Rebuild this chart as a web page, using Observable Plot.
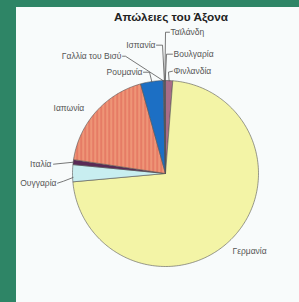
<!DOCTYPE html>
<html><head><meta charset="utf-8">
<script src="https://cdn.jsdelivr.net/npm/d3@7"></script>
<script src="https://cdn.jsdelivr.net/npm/@observablehq/plot@0.6"></script>
<style>
html,body{margin:0;padding:0;}
body{width:299px;height:302px;overflow:hidden;background:#2e8566;position:relative;font-family:"Liberation Sans",Arial,sans-serif;}
#panel{position:absolute;left:16px;top:7px;right:0;bottom:0;background:#f8fbfb;}
#title{position:absolute;left:100px;width:142px;top:10px;line-height:14px;text-align:center;font-size:11.8px;font-weight:bold;color:#222;}
#chart{position:absolute;left:0;top:0;}
</style></head>
<body>
<div id="panel"></div>
<div id="title">Απώλειες του Άξονα</div>
<svg width="0" height="0" style="position:absolute"><defs>
<pattern id="jpStripes" patternUnits="userSpaceOnUse" width="4" height="10">
<rect width="4" height="10" fill="#ec8a6e"/>
<rect x="0" width="1.2" height="10" fill="#e2725f"/>
<rect x="2.5" width="0.8" height="10" fill="#f2a684"/>
</pattern></defs></svg>
<div id="chart"></div>
<script>
// Data (clockwise from 12 o'clock), shares in percent
const countries = ["Φινλανδία","Γερμανία","Ουγγαρία","Ιταλία","Ιαπωνία","Ρουμανία","Γαλλία του Βισύ","Ισπανία","Ταϊλάνδη","Βουλγαρία"];
const shares = [1.25, 72.3, 2.95, 0.86, 18.3, 3.92, 0.15, 0.10, 0.06, 0.08];
const sliceColors = ["#a86c88","#f3f4a6","#c8eef0","#5a2a55","url(#jpStripes)","#1c6fc4","#3d6fb0","#b04848","#8a5a8a","#6a7ab0"];

// Layout of labels (unit-circle coordinates), kept separate from the data
const labelLayout = [
  {name:"Ταϊλάνδη", u:0.054, v:1.519, anchor:"start", bends:[[0.043,1.519],[0,1.519]], t:0.5},
  {name:"Βουλγαρία", u:0.086, v:1.283, anchor:"start", bends:[[0.075,1.283],[0.011,1.283]], t:0.5},
  {name:"Φινλανδία", u:0.086, v:1.100, anchor:"start", bends:[[0.075,1.100],[0.032,1.090]], t:0.5},
  {name:"Ισπανία", u:-0.108, v:1.380, anchor:"end", bends:[[-0.097,1.380],[-0.032,1.380]], t:0.5},
  {name:"Γαλλία του Βισύ", u:-0.473, v:1.261, anchor:"end", bends:[[-0.462,1.261],[-0.430,1.261]], t:0.5},
  {name:"Ρουμανία", u:-0.247, v:1.089, anchor:"end", bends:[[-0.237,1.089],[-0.172,1.089]], t:0.5},
  {name:"Ιαπωνία", u:-1.204, v:0.702, anchor:"start", bends:null},
  {name:"Ιταλία", u:-1.226, v:0.100, anchor:"end", bends:[[-1.204,0.100]], t:0.5},
  {name:"Ουγγαρία", u:-1.172, v:-0.104, anchor:"end", bends:[[-1.161,-0.104],[-1.097,-0.083]], t:0.25},
  {name:"Γερμανία", u:0.720, v:-0.835, anchor:"start", bends:null}
];

const arcs = d3.pie().sort(null).value(d => d)(shares);

// polygon points for each slice
const slicePts = [];
arcs.forEach((a, i) => {
  const name = countries[i];
  slicePts.push({name, x:0, y:0});
  const n = Math.max(2, Math.ceil((a.endAngle - a.startAngle) / (Math.PI/180)));
  for (let k = 0; k <= n; k++) {
    const ang = a.startAngle + (a.endAngle - a.startAngle) * k / n;
    slicePts.push({name, x:Math.sin(ang), y:Math.cos(ang)});
  }
  slicePts.push({name, x:0, y:0});
});

// leader lines
const leaderPts = [];
labelLayout.forEach(l => {
  if (!l.bends) return;
  const a = arcs[countries.indexOf(l.name)];
  l.bends.forEach(([x,y]) => leaderPts.push({name:l.name, x, y}));
  const ang = a.startAngle + (a.endAngle - a.startAngle) * l.t;
  leaderPts.push({name:l.name, x:Math.sin(ang)*0.995, y:Math.cos(ang)*0.995});
});

const chart = Plot.plot({
  width: 299, height: 302,
  marginLeft: 72, marginRight: 41, marginTop: 80, marginBottom: 36,
  x: {domain: [-1, 1], axis: null},
  y: {domain: [-1, 1], axis: null},
  color: {domain: countries, range: sliceColors},
  style: {background: "transparent", fontFamily: "Liberation Sans, Arial, sans-serif", overflow: "visible"},
  marks: [
    Plot.line(slicePts, {x:"x", y:"y", z:"name", fill:"name", stroke:"#555", strokeWidth:0.6, strokeLinejoin:"round"}),
    Plot.line(leaderPts, {x:"x", y:"y", z:"name", stroke:"#555", strokeWidth:0.8, fill:"none"}),
    Plot.text(labelLayout.filter(d => d.anchor === "start"), {x:"u", y:"v", text:"name", textAnchor:"start", fontSize:8.5, fill:"#555"}),
    Plot.text(labelLayout.filter(d => d.anchor === "end"), {x:"u", y:"v", text:"name", textAnchor:"end", fontSize:8.5, fill:"#555"})
  ]
});
document.getElementById("chart").appendChild(chart);
</script>
</body></html>
